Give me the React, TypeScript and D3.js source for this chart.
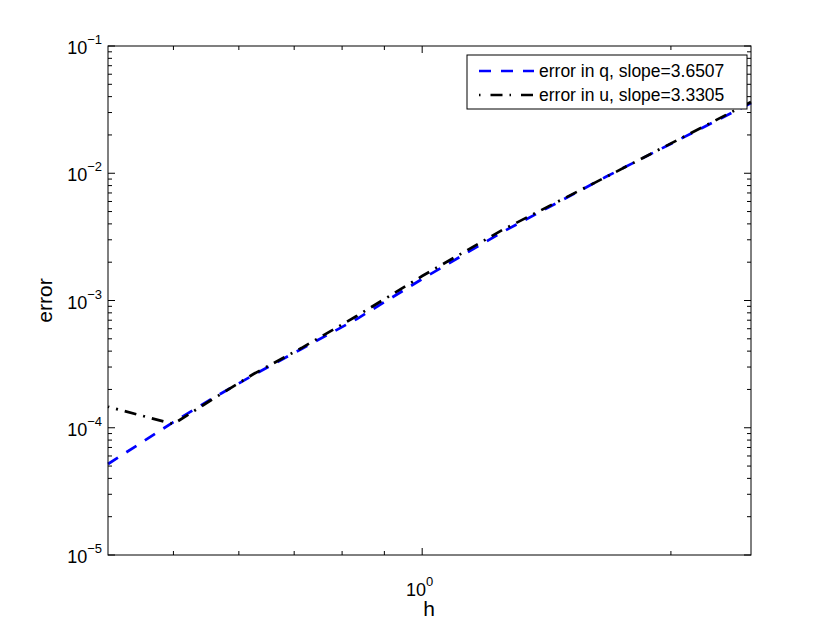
import React from 'react';
import * as d3 from 'd3';

// mesh sizes h = 5/n, n = 2..12
const hValues = [2.5, 1.6667, 1.25, 1.0, 0.8333, 0.7143, 0.625, 0.5556, 0.5, 0.4545, 0.4167];
const errQ = [0.0356, 9.34e-3, 3.45e-3, 1.476e-3, 7.15e-4, 4.16e-4, 2.6e-4, 1.68e-4, 1.109e-4, 7.45e-5, 5.19e-5];
const errU = [0.0363, 9.3e-3, 3.58e-3, 1.557e-3, 7.55e-4, 4.23e-4, 2.645e-4, 1.652e-4, 1.07e-4, 1.259e-4, 1.463e-4];

const xMajorTicks = [1];
const xTickExp = ['0'];
const yMajorTicks = [1e-5, 1e-4, 1e-3, 1e-2, 1e-1];
const yTickExp = ['\u22125', '\u22124', '\u22123', '\u22122', '\u22121'];

const seriesNames = ['error in q, slope=3.6507', 'error in u, slope=3.3305'];

const FONT = '"Liberation Sans", Arial, Helvetica, sans-serif';

export default function App() {
  const width = 830;
  const height = 625;
  const margin = { left: 108, right: 79, top: 46, bottom: 70 };
  const x0 = margin.left;
  const x1 = width - margin.right;
  const y0 = height - margin.bottom;
  const y1 = margin.top;

  const x = d3.scaleLog().domain([5 / 12, 2.5]).range([x0, x1]);
  const y = d3.scaleLog().domain([1e-5, 1e-1]).range([y0, y1]);

  const line = d3
    .line<number>()
    .x((_, i) => x(hValues[i]))
    .y((d) => y(d));

  const xMinor = x.ticks().filter((t) => !xMajorTicks.some((m) => Math.abs(m - t) < 1e-9));
  const yMinor = y.ticks().filter((t) => !yMajorTicks.some((m) => Math.abs(m - t) / m < 1e-6));

  const major = 7;
  const minor = 4;

  const legend = { x: 467, y: 55, w: 280, h: 54 };

  return (
    <svg
      width={width}
      height={height}
      style={{ position: 'absolute', left: 0, top: 0, background: '#fff' }}
      fontFamily={FONT}
    >
      <rect x={0} y={0} width={width} height={height} fill="#fff" />
      <rect x={x0} y={y1} width={x1 - x0} height={y0 - y1} fill="#fff" />

      {/* data lines */}
      <path d={line(errQ) || ''} fill="none" stroke="#0000ff" strokeWidth={2.7} strokeDasharray="12,10" />
      <path d={line(errU) || ''} fill="none" stroke="#000" strokeWidth={2.7} strokeDasharray="12,7,2,7" />

      {/* ticks, mirrored on all sides */}
      <g stroke="#000" strokeWidth={1}>
        {xMajorTicks.map((t) => (
          <g key={'xM' + t}>
            <line x1={x(t)} x2={x(t)} y1={y0} y2={y0 - major} />
            <line x1={x(t)} x2={x(t)} y1={y1} y2={y1 + major} />
          </g>
        ))}
        {xMinor.map((t) => (
          <g key={'xm' + t}>
            <line x1={x(t)} x2={x(t)} y1={y0} y2={y0 - minor} />
            <line x1={x(t)} x2={x(t)} y1={y1} y2={y1 + minor} />
          </g>
        ))}
        {yMajorTicks.map((t) => (
          <g key={'yM' + t}>
            <line x1={x0} x2={x0 + major} y1={y(t)} y2={y(t)} />
            <line x1={x1} x2={x1 - major} y1={y(t)} y2={y(t)} />
          </g>
        ))}
        {yMinor.map((t) => (
          <g key={'ym' + t}>
            <line x1={x0} x2={x0 + minor} y1={y(t)} y2={y(t)} />
            <line x1={x1} x2={x1 - minor} y1={y(t)} y2={y(t)} />
          </g>
        ))}
      </g>

      <rect x={x0} y={y1} width={x1 - x0} height={y0 - y1} fill="none" stroke="#000" strokeWidth={1} />

      {/* tick labels */}
      {yMajorTicks.map((t, i) => (
        <text key={'yl' + t} x={x0 - 6} y={y(t) + 8} fontSize={18} textAnchor="end" fill="#000">
          10
          <tspan dy={-10} fontSize={13}>
            {yTickExp[i]}
          </tspan>
        </text>
      ))}
      {xMajorTicks.map((t, i) => (
        <text key={'xl' + t} x={x(t) + 11} y={y0 + 41} fontSize={18} textAnchor="end" fill="#000">
          10
          <tspan dy={-10} fontSize={13}>
            {xTickExp[i]}
          </tspan>
        </text>
      ))}

      {/* axis labels */}
      <text x={x(1) + 7} y={y0 + 61} fontSize={21} textAnchor="middle" fill="#000">
        h
      </text>
      <text
        transform={`translate(${52},${(y0 + y1) / 2}) rotate(-90)`}
        fontSize={21}
        textAnchor="middle"
        fill="#000"
      >
        error
      </text>

      {/* legend */}
      <rect x={legend.x} y={legend.y} width={legend.w} height={legend.h} fill="#fff" stroke="#000" strokeWidth={1} />
      {seriesNames.map((name, i) => {
        const ly = legend.y + 16 + i * 24;
        return (
          <g key={name}>
            <line
              x1={legend.x + 12}
              x2={legend.x + 67}
              y1={ly}
              y2={ly}
              stroke={i === 0 ? '#0000ff' : '#000'}
              strokeWidth={2.7}
              strokeDasharray={i === 0 ? '12,10' : '1.5,10,12,7'}
            />
            <text x={legend.x + 72} y={ly + 6} fontSize={17.5} fill="#000">
              {name}
            </text>
          </g>
        );
      })}
    </svg>
  );
}
